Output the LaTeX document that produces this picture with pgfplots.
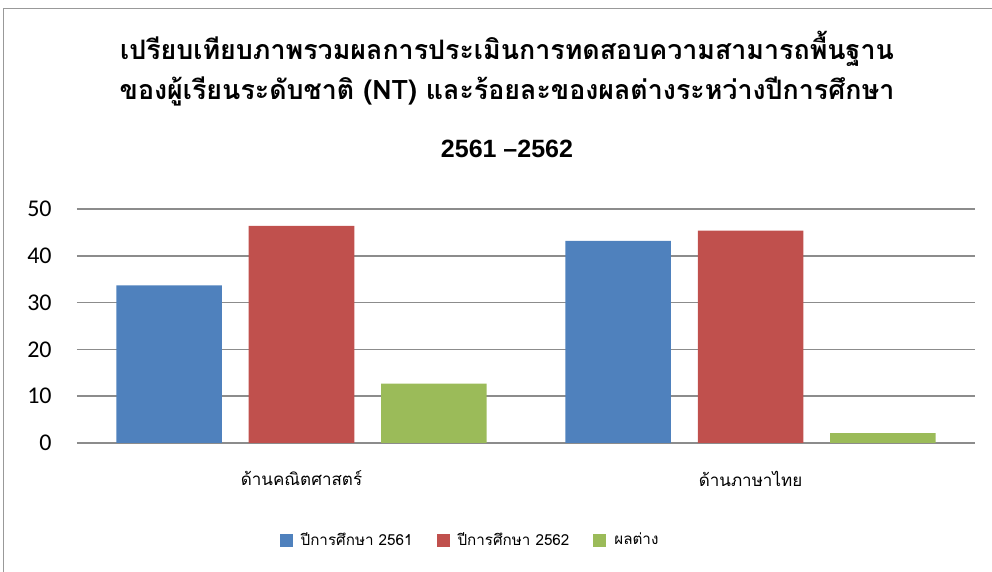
\documentclass[border=0pt]{standalone}
\usepackage{fontspec}
\setmainfont{Liberation Sans}
\newfontfamily\thaifont[Script=Thai]{Loma}
\newfontfamily\tickfont{Carlito}
\usepackage{pgfplots}
\pgfplotsset{compat=1.18}

\definecolor{sblue}{HTML}{4F81BD}
\definecolor{sred}{HTML}{C0504D}
\definecolor{sgreen}{HTML}{9BBB59}
\definecolor{gridgray}{HTML}{8C8C8C}

\begin{document}
\begin{tikzpicture}[x=0.5pt,y=0.5pt]
% picture in reference pixels (992 x 572)
\useasboundingbox (0,0) rectangle (992,572);
\draw[line width=0.7pt, gray!80] (3.5,0) -- (3.5,563.5) -- (992,563.5);

\node[anchor=base, font=\thaifont\bfseries\fontsize{13.4}{15}\selectfont] at (507,512)
  {เปรียบเทียบภาพรวมผลการประเมินการทดสอบความสามารถพื้นฐาน};
\node[anchor=base, font=\thaifont\bfseries\fontsize{13.4}{15}\selectfont] at (507,472)
  {ของผู้เรียนระดับชาติ (NT) และร้อยละของผลต่างระหว่างปีการศึกษา};
\node[anchor=base, font=\bfseries\fontsize{12.5}{14}\selectfont] at (507,414)
  {2561 --2562};

\begin{axis}[
    at={(38.5pt,64.5pt)}, anchor=south west,
    scale only axis,
    width=449pt, height=117pt,
    xmin=-0.5, xmax=1.5,
    ymin=0, ymax=50,
    ybar=13.4pt, bar width=52.75pt,
    axis line style={draw=none},
    major tick length=0pt,
    ytick={0,10,20,30,40,50},
    xtick={0,1},
    xticklabels={ด้านคณิตศาสตร์, ด้านภาษาไทย},
    ymajorgrids=true,
    grid style={gridgray, line width=0.75pt},
    /pgf/number format/assume math mode=true,
    yticklabel style={font=\tickfont\fontsize{12}{12}\selectfont, inner sep=0pt, xshift=-12.5pt},
    xticklabel style={font=\thaifont\fontsize{8.5}{10}\selectfont, yshift=-10.5pt},
    legend style={
        at={(0.4388,-0.415)}, anchor=center,
        draw=none, fill=none,
        legend columns=3,
        font=\thaifont\fontsize{7.6}{9}\selectfont,
        /tikz/every even column/.append style={column sep=10pt},
    },
    legend image code/.code={\fill[#1] (0pt,-3.25pt) rectangle (6.5pt,3.25pt);
        \path (8.5pt,0pt);},
]
\addplot[fill=sblue, draw=none] coordinates {(0,33.7) (1,43.2)};
\addplot[fill=sred, draw=none] coordinates {(0,46.4) (1,45.4)};
\addplot[fill=sgreen, draw=none] coordinates {(0,12.7) (1,2.1)};
\legend{ปีการศึกษา 2561, ปีการศึกษา 2562, ผลต่าง}
\end{axis}
\end{tikzpicture}
\end{document}
